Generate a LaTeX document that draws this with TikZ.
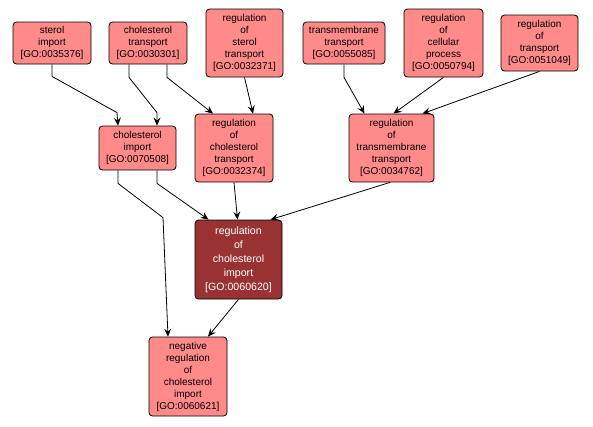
\documentclass[tikz,border=0pt]{standalone}
\usepackage{fontspec}
\setmainfont{Liberation Sans}
\usetikzlibrary{arrows.meta,calc}
\definecolor{lightred}{RGB}{255,138,138}
\definecolor{darkred}{RGB}{153,51,51}
\begin{document}
\begin{tikzpicture}[x=1pt,y=-1pt,
  gobox/.style={draw=black,line width=0.8pt,rounded corners=3.5pt,fill=lightred,
    align=center,inner sep=0pt,font=\fontsize{10}{12}\selectfont,text=black},
  godark/.style={gobox,fill=darkred,text=white,font=\fontsize{10.6}{14}\selectfont},
  arr/.style={draw=black,line width=0.8pt,-{Stealth[length=8pt,width=7pt,inset=3pt]}}]
\useasboundingbox[fill=white] (0,0) rectangle (593,426);
% top row
\node[gobox,minimum width=78pt,minimum height=42pt] (si) at (52,43) {sterol\\import\\{[GO:0035376]}};
\node[gobox,minimum width=78pt,minimum height=42pt] (ct) at (148,43) {cholesterol\\transport\\{[GO:0030301]}};
\node[gobox,minimum width=77pt,minimum height=68pt] (rst) at (244.5,43) {regulation\\of\\sterol\\transport\\{[GO:0032371]}};
\node[gobox,minimum width=82pt,minimum height=42pt] (tt) at (344,43) {transmembrane\\transport\\{[GO:0055085]}};
\node[gobox,minimum width=79pt,minimum height=68pt] (rcp) at (443.5,43) {regulation\\of\\cellular\\process\\{[GO:0050794]}};
\node[gobox,minimum width=77pt,minimum height=56pt] (rt) at (539.5,43) {regulation\\of\\transport\\{[GO:0051049]}};
% middle row
\node[gobox,minimum width=77pt,minimum height=44pt] (ci) at (137.5,148) {cholesterol\\import\\{[GO:0070508]}};
\node[gobox,minimum width=78pt,minimum height=68pt] (rct) at (234,148) {regulation\\of\\cholesterol\\transport\\{[GO:0032374]}};
\node[gobox,minimum width=85pt,minimum height=68pt] (rtt) at (391.5,148) {regulation\\of\\transmembrane\\transport\\{[GO:0034762]}};
% lower
\node[godark,minimum width=87pt,minimum height=79pt] (rci) at (238.5,259.5) {regulation\\of\\cholesterol\\import\\{[GO:0060620]}};
\node[gobox,minimum width=78pt,minimum height=79pt] (neg) at (188,376.5) {negative\\regulation\\of\\cholesterol\\import\\{[GO:0060621]}};
% edges
\draw[arr] (si.south) -- ++(0,12) -- ($(ci.north)+(-20.5,-13)$) -- ($(ci.north)+(-19.5,0)$);
\draw[arr] ($(ct.south)+(-19,0)$) -- ++(0,13) -- ($(ci.north)+(19.5,-13)$) -- ($(ci.north)+(19.5,0)$);
\draw[arr] ($(ct.south)+(19,0)$) -- ++(0,13) -- ($(rct.north)+(-21,0)$);
\draw[arr] (rst.south) -- ($(rct.north)+(19,0)$);
\draw[arr] (tt.south) -- ++(0,13) -- ($(rtt.north)+(-27,0)$);
\draw[arr] (rcp.south) -- ($(rtt.north)+(2,0)$);
\draw[arr] (rt.south) -- ($(rtt.north)+(31,0)$);
\draw[arr] ($(ci.south)+(-19.5,0)$) -- ++(0,13) -- ($(neg.north)+(-25,-119)$) -- ($(neg.north)+(-20,0)$);
\draw[arr] ($(ci.south)+(19.5,0)$) -- ++(0,13) -- ($(rci.north)+(-30,0)$);
\draw[arr] (rct.south) -- ($(rci.north)+(-1,0)$);
\draw[arr] ($(rtt.south)+(-1.5,0)$) -- ($(rci.north)+(32,0)$);
\draw[arr] (rci.south) -- ($(neg.north)+(20,0)$);
\end{tikzpicture}
\end{document}
